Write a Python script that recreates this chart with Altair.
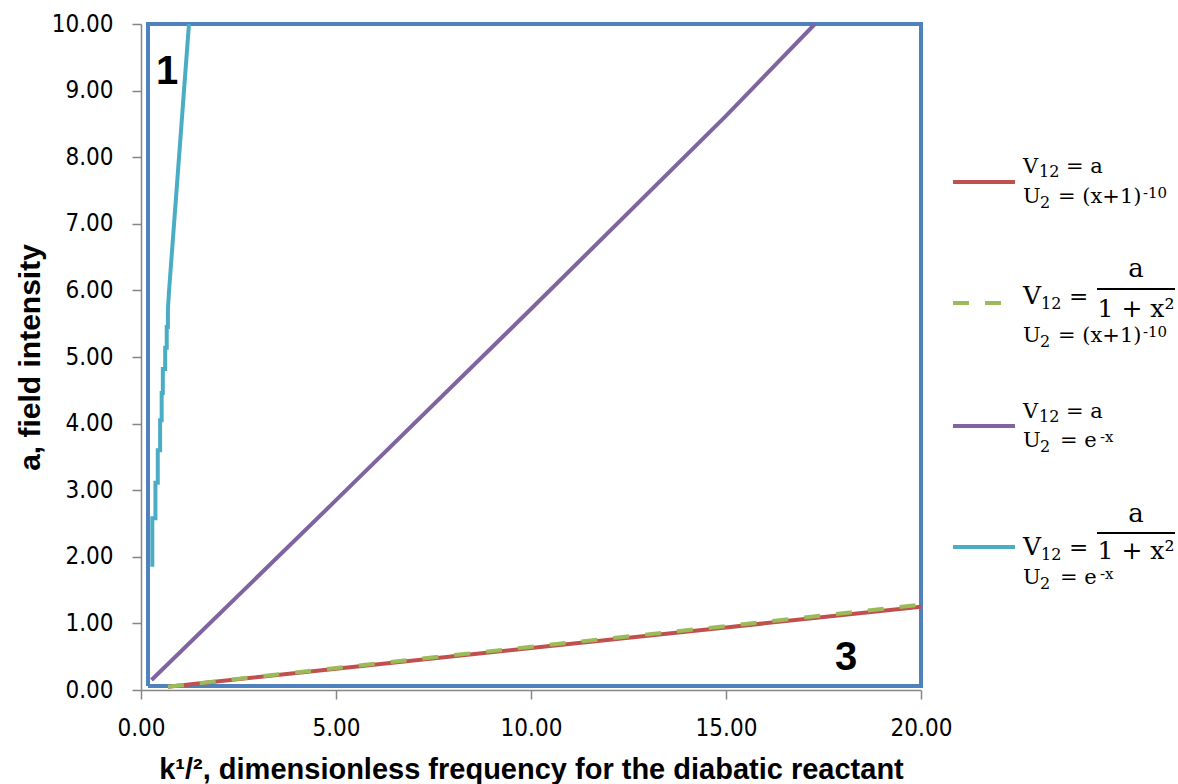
import altair as alt
import pandas as pd

# ---- data -------------------------------------------------------------
# outer boundary traced around the admissible region
box_x = [0.18, 0.18, 20.0, 20.0, 0.18]
box_y = [0.06, 10.0, 10.0, 0.06, 0.06]

# V12 = a, U2 = (x+1)^-10
red_x = [0.69, 5.0, 10.0, 15.0, 20.0]
red_y = [0.05, 0.32, 0.63, 0.94, 1.25]

# V12 = a/(1+x^2), U2 = (x+1)^-10
green_x = [0.69, 5.0, 10.0, 15.0, 20.0]
green_y = [0.05, 0.33, 0.65, 0.96, 1.28]

# V12 = a, U2 = e^-x
purple_x = [0.27, 5.0, 10.0, 15.0, 17.28]
purple_y = [0.15, 2.85, 5.72, 8.62, 10.0]

# V12 = a/(1+x^2), U2 = e^-x
cyan_x = [0.29, 0.29, 0.37, 0.37, 0.43, 0.43, 0.49, 0.49, 0.53, 0.53, 0.56,
          0.56, 0.62, 0.62, 0.66, 0.66, 0.69, 0.69, 0.72, 1.23]
cyan_y = [1.85, 2.58, 2.58, 3.11, 3.11, 3.60, 3.60, 4.05, 4.05, 4.46, 4.46,
          4.82, 4.82, 5.14, 5.14, 5.45, 5.45, 5.71, 6.00, 10.0]

# region numbers written on the plot
region_labels = ["1", "3"]
region_x = [0.67, 18.08]
region_y = [9.28, 0.48]

x_ticks = [0, 5, 10, 15, 20]
y_ticks = [0, 1, 2, 3, 4, 5, 6, 7, 8, 9, 10]

x_title = "k¹/², dimensionless frequency for the diabatic reactant"
y_title = "a, field intensity"

# legend formulas, split into base text / subscript / superscript pieces
v_plain = ["V", "12", "= a"]
v_frac = ["V", "12", "="]
frac_num = "a"
frac_den = "1 + x²"
u_power = ["U", "2", "= (x+1)", "-10"]
u_exp = ["U", "2", "= e", "-x"]

# ---- style ------------------------------------------------------------
W, H = 780, 666
LEFT, TOP = 141, 24
BLUE, RED, GREEN, PURPLE, CYAN = "#4F81BD", "#C0504D", "#9BBB59", "#8064A2", "#4BACC6"
AXIS_FONT = "Liberation Sans Narrow, DejaVu Sans Condensed, Liberation Sans"
TITLE_FONT = "Liberation Sans"
SERIF = "DejaVu Serif"

xs = alt.Scale(domain=[0, 20], nice=False, zero=False)
ys = alt.Scale(domain=[0, 10], nice=False, zero=False)


def series(xv, yv, color, dash=None, width=4):
    df = pd.DataFrame({"x": xv, "y": yv, "i": range(len(xv))})
    kw = dict(color=color, strokeWidth=width, clip=False)
    if dash:
        kw["strokeDash"] = dash
    return alt.Chart(df).mark_line(**kw).encode(
        x=alt.X("x:Q", scale=xs),
        y=alt.Y("y:Q", scale=ys),
        order="i:Q",
    )


base_axes = alt.Chart(pd.DataFrame({"x": [0], "y": [0]})).mark_point(opacity=0).encode(
    x=alt.X(
        "x:Q", scale=xs,
        axis=alt.Axis(
            values=x_ticks, format=".2f", grid=False, title=x_title,
            titleY=88, titleBaseline="alphabetic", titleFontSize=29,
            labelPadding=17,
        ),
    ),
    y=alt.Y(
        "y:Q", scale=ys,
        axis=alt.Axis(
            values=y_ticks, format=".2f", grid=False, title=y_title,
            titleX=-111, titleBaseline="middle", titleFontSize=30, labelPadding=19,
        ),
    ),
)

layers = [
    base_axes,
    series(box_x, box_y, BLUE, width=4),
    series(red_x, red_y, RED),
    series(green_x, green_y, GREEN, dash=[16, 16]),
    series(purple_x, purple_y, PURPLE),
    series(cyan_x, cyan_y, CYAN),
]

regions = pd.DataFrame({"t": region_labels, "x": region_x, "y": region_y})
layers.append(
    alt.Chart(regions).mark_text(
        font="Liberation Sans", fontWeight="bold", fontSize=40, color="black",
        align="center", baseline="middle",
    ).encode(x=alt.X("x:Q", scale=xs), y=alt.Y("y:Q", scale=ys), text="t:N")
)


def px(v):
    return alt.value(v - LEFT)


def py(v):
    return alt.value(v - TOP)


def text_layer(txt, x, y, size, align="left"):
    return alt.Chart(pd.DataFrame({"t": [txt]})).mark_text(
        font=SERIF, fontSize=size, color="black", align=align, baseline="alphabetic"
    ).encode(x=px(x), y=py(y), text="t:N")


def formula(pieces, xs_, dys, sizes, baseline):
    return [text_layer(p, x, baseline + dy, s) for p, x, dy, s in zip(pieces, xs_, dys, sizes)]


# piece layouts for each formula row
V_PLAIN_X, V_PLAIN_DY, V_PLAIN_S = [1023, 1039, 1066], [0, 4, 0], [21, 16, 21]
V_FRAC_X, V_FRAC_DY, V_FRAC_S = [1023, 1041, 1069], [0, 5, 0], [25, 16, 23]
U_POW_X, U_DY, U_S = [1023, 1040, 1058, 1143], [0, 5, 0, -5], [21, 16, 21, 15]
U_EXP_X = [1023, 1040, 1060, 1100]


def rule_layer(x1, x2, y, color, width, dash=None):
    kw = dict(color=color, strokeWidth=width)
    if dash:
        kw["strokeDash"] = dash
    return alt.Chart(pd.DataFrame({"t": [0]})).mark_rule(**kw).encode(
        x=px(x1), x2=px(x2), y=py(y)
    )


# red: V12 = a, U2 = (x+1)^-10
layers.append(rule_layer(953, 1015, 182, RED, 4))
layers += formula(v_plain, V_PLAIN_X, V_PLAIN_DY, V_PLAIN_S, 173)
layers += formula(u_power, U_POW_X, U_DY, U_S, 203)

# green dashed: V12 = a/(1+x^2), U2 = (x+1)^-10
layers.append(rule_layer(953, 1001, 303, GREEN, 4, dash=[16, 16]))
layers += formula(v_frac, V_FRAC_X, V_FRAC_DY, V_FRAC_S, 304)
layers.append(text_layer(frac_num, 1136, 277, 26, align="center"))
layers.append(rule_layer(1097, 1175, 289, "black", 2))
layers.append(text_layer(frac_den, 1136, 317, 25, align="center"))
layers += formula(u_power, U_POW_X, U_DY, U_S, 342)

# purple: V12 = a, U2 = e^-x
layers.append(rule_layer(953, 1015, 426, PURPLE, 4))
layers += formula(v_plain, V_PLAIN_X, V_PLAIN_DY, V_PLAIN_S, 418)
layers += formula(u_exp, U_EXP_X, U_DY, U_S, 447)

# cyan: V12 = a/(1+x^2), U2 = e^-x
layers.append(rule_layer(953, 1015, 547, CYAN, 4))
layers += formula(v_frac, V_FRAC_X, V_FRAC_DY, V_FRAC_S, 555)
layers.append(text_layer(frac_num, 1136, 522, 26, align="center"))
layers.append(rule_layer(1097, 1175, 533, "black", 2))
layers.append(text_layer(frac_den, 1136, 559, 25, align="center"))
layers += formula(u_exp, U_EXP_X, U_DY, U_S, 584)

chart = (
    alt.layer(*layers)
    .properties(
        width=W, height=H,
        autosize=alt.AutoSizeParams(type="none"),
        padding={"left": LEFT, "top": TOP, "right": 1178 - LEFT - W, "bottom": 784 - TOP - H},
        background="white",
    )
    .configure_view(stroke=None)
    .configure_axis(
        domainColor="#868686", domainWidth=1.5,
        tickColor="#868686", tickWidth=1.5, tickSize=9,
        labelFont=AXIS_FONT, labelFontSize=24, labelColor="black", labelFlush=False,
        titleFont=TITLE_FONT, titleFontWeight="bold", titleColor="black",
    )
)

chart.save("out.html", embed_options={"renderer": "svg", "actions": False})
